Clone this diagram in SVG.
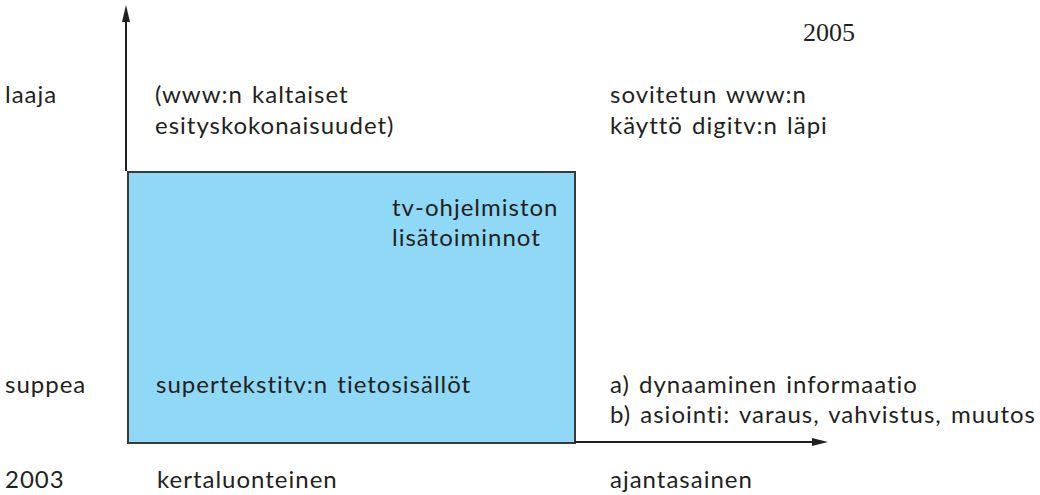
<svg xmlns="http://www.w3.org/2000/svg" width="1040" height="495" viewBox="0 0 1040 495">
  <style>
    .t { font-family: "Lato", "Open Sans", sans-serif; font-size: 24px; letter-spacing: 1px; word-spacing: 2px; fill: #231f20; }
    .y { font-family: "Liberation Serif", serif; font-size: 26px; fill: #231f20; }
    .ax { stroke: #231f20; stroke-width: 2; fill: none; }
    .hd { fill: #231f20; }
  </style>
  <g id="box">
    <rect x="128" y="172" width="447" height="271" fill="#8fd8f6" stroke="#3a3a3a" stroke-width="2"/>
  </g>
  <g id="connectors">
    <line class="ax" x1="126" y1="171" x2="126" y2="22"/>
    <path class="hd" d="M126,5 L122,22 L130,22 z"/>
    <line class="ax" x1="575" y1="442" x2="812" y2="442"/>
    <path class="hd" d="M828,442 L812,438 L812,446 z"/>
  </g>
  <g id="labels">
    <text class="y" x="803" y="41">2005</text>
    <text class="t" x="5" y="103">laaja</text>
    <text class="t" x="155" y="103">(www:n kaltaiset</text>
    <text class="t" x="155" y="134">esityskokonaisuudet)</text>
    <text class="t" x="610" y="103">sovitetun www:n</text>
    <text class="t" x="610" y="134">käyttö digitv:n läpi</text>
    <text class="t" x="392" y="216">tv-ohjelmiston</text>
    <text class="t" x="392" y="246">lisätoiminnot</text>
    <text class="t" x="5" y="393">suppea</text>
    <text class="t" x="156" y="393">supertekstitv:n tietosisällöt</text>
    <text class="t" x="610" y="393">a) dynaaminen informaatio</text>
    <text class="t" x="610" y="423">b) asiointi: varaus, vahvistus, muutos</text>
    <text class="t" x="5" y="488">2003</text>
    <text class="t" x="157" y="488">kertaluonteinen</text>
    <text class="t" x="610" y="488">ajantasainen</text>
  </g>
</svg>
